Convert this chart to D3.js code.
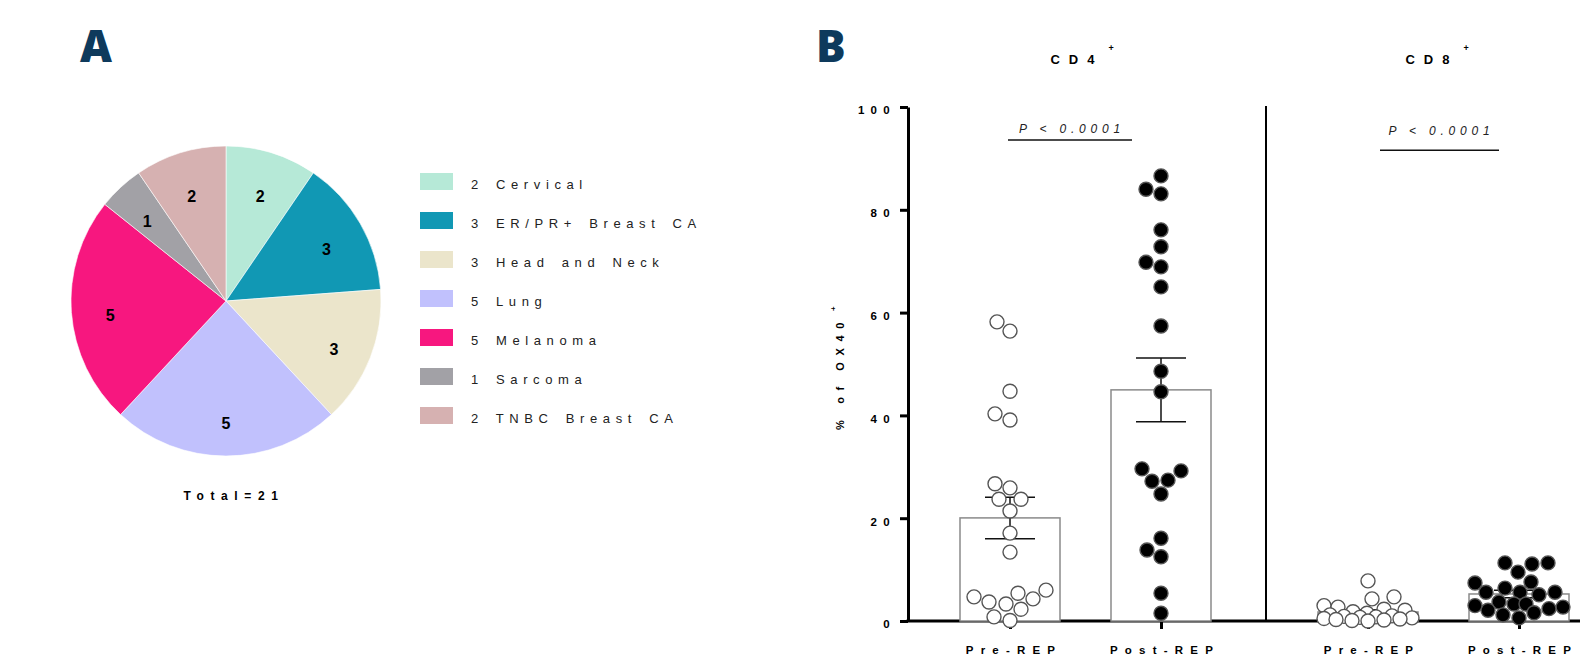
<!DOCTYPE html>
<html>
<head>
<meta charset="utf-8">
<script src="https://cdn.jsdelivr.net/npm/d3@7"></script>
<style>
  body { margin: 0; background: #fff; }
  svg { display: block; font-family: "Liberation Sans", Arial, sans-serif; }
</style>
</head>
<body>
<script>
// ---- panel A : tumour types ----
var tumourTypes  = ["Cervical", "ER/PR+ Breast CA", "Head and Neck", "Lung", "Melanoma", "Sarcoma", "TNBC Breast CA"];
var tumourCounts = [2, 3, 3, 5, 5, 1, 2];
var tumourColors = ["#b6e9d7", "#1198b4", "#ebe5cb", "#c1c1fd", "#f7177f", "#a2a1a6", "#d6b1b1"];

// ---- panel B : % of OX40+ per patient ----
var groups  = ["Pre-REP", "Post-REP"];
var subsets = ["CD4", "CD8"];
var cd4Pre  = [58.2, 56.4, 44.7, 40.3, 39.1, 26.7, 25.9, 23.7, 23.7, 21.4, 17.1, 13.4, 5.4, 4.7, 6.0, 3.7, 2.3, 3.3, 4.3, 0.1, 0.8];
var cd4Post = [86.6, 83.1, 84.0, 76.1, 72.8, 69.8, 68.9, 65.0, 57.4, 48.6, 44.6, 29.6, 27.4, 29.2, 27.2, 24.7, 13.8, 16.1, 12.5, 5.4, 1.5];
var cd8Pre  = [7.8, 4.7, 4.3, 3.0, 2.7, 2.3, 2.1, 1.8, 1.5, 1.2, 1.0, 0.9, 0.8, 0.7, 0.6, 0.5, 0.4, 0.3, 0.2, 0.1, 0.0];
var cd8Post = [11.1, 9.5, 11.3, 11.3, 7.4, 7.6, 5.6, 5.6, 5.1, 5.6, 6.4, 3.3, 2.7, 3.7, 3.3, 1.6, 2.1, 0.6, 1.2, 3.0, 2.4];
var yTicks  = [0, 20, 40, 60, 80, 100];
var pText   = ["P < 0.0001", "P < 0.0001"];
var pLevel  = [93.6, 91.6];   // height of the significance bar, in % units

var W = 1580, H = 658;
var svg = d3.select("body").append("svg").attr("width", W).attr("height", H);

var navy = "#0e3a5c";
svg.append("text").attr("x", 80).attr("y", 62).text("A")
   .style("font-family", "'Open Sans', sans-serif").style("font-weight", 800)
   .style("font-size", "44px").style("fill", navy);
svg.append("text").attr("x", 816).attr("y", 62).text("B")
   .style("font-family", "'Open Sans', sans-serif").style("font-weight", 800)
   .style("font-size", "44px").style("fill", navy);

// ================= pie =================
var cx = 226, cy = 301, R = 155;
var pie = d3.pie().sort(null).value(function(d) { return d; });
var arc = d3.arc().innerRadius(0).outerRadius(R);
var labelArc = d3.arc().innerRadius(116).outerRadius(116);
var slices = pie(tumourCounts);

var gp = svg.append("g").attr("transform", "translate(" + cx + "," + cy + ")");
gp.selectAll("path")
  .data(slices)
  .enter().append("path")
  .attr("d", arc)
  .attr("fill", function(d, i) { return tumourColors[i]; })
  .attr("stroke", "#fff")
  .attr("stroke-width", 0.6);

gp.selectAll(".lbl")
  .data(slices)
  .enter().append("text")
  .attr("class", "lbl")
  .attr("transform", function(d) { return "translate(" + labelArc.centroid(d) + ")"; })
  .attr("dy", "0.72em")
  .style("text-anchor", "middle")
  .style("font-weight", "bold")
  .style("font-size", "16px")
  .text(function(d) { return d.data; });

svg.append("text")
   .attr("x", cx + 8).attr("y", 500)
   .style("text-anchor", "middle")
   .style("font-weight", "bold").style("font-size", "12px").style("letter-spacing", "6.6px")
   .text("Total=" + d3.sum(tumourCounts));

var legend = svg.append("g").attr("transform", "translate(420,173)");
var row = legend.selectAll("g")
  .data(tumourTypes)
  .enter().append("g")
  .attr("transform", function(d, i) { return "translate(0," + (i * 39) + ")"; });
row.append("rect").attr("width", 33).attr("height", 17)
   .attr("fill", function(d, i) { return tumourColors[i]; });
row.append("text").attr("x", 51).attr("y", 16)
   .style("font-size", "13px").style("letter-spacing", "5.6px").style("word-spacing", "3px").style("fill", "#222")
   .text(function(d, i) { return tumourCounts[i] + " " + d; });

// ================= dot plot =================
var y = d3.scaleLinear().domain([0, 100]).range([621, 107]);
var axisX = [908, 1266];
var data = [[cd4Pre, cd4Post], [cd8Pre, cd8Post]];
var dotR = 7;

// greedy beeswarm: smallest free offset, else the least crowded one
function swarm(values, minDist, maxOff) {
  var order = d3.range(values.length).sort(function(a, b) { return values[a] - values[b]; });
  var placed = [], offs = [];
  order.forEach(function(i) {
    var py = y(values[i]);
    var best = 0, bestD = -1, found = false;
    for (var k = 0; k <= maxOff && !found; k++) {
      var cands = k === 0 ? [0] : [-k, k];
      for (var c = 0; c < cands.length; c++) {
        var dx = cands[c];
        var dmin = d3.min(placed, function(p) { return Math.hypot(p.dx - dx, p.y - py); });
        if (dmin === undefined) dmin = Infinity;
        if (dmin >= minDist) { best = dx; found = true; break; }
        if (dmin > bestD) { bestD = dmin; best = dx; }
      }
    }
    offs[i] = best;
    placed.push({dx: best, y: py});
  });
  return offs;
}

// x baseline across both panels
svg.append("line").attr("x1", axisX[0] - 1.5).attr("x2", W).attr("y1", y(0)).attr("y2", y(0))
   .attr("stroke", "#000").attr("stroke-width", 3);

// left y axis
var yAxis = svg.append("g")
  .attr("transform", "translate(" + axisX[0] + ",0)")
  .call(d3.axisLeft(y).tickValues(yTicks).tickSize(8).tickSizeOuter(0).tickPadding(4));
yAxis.select(".domain").attr("stroke-width", 3);
yAxis.selectAll(".tick line").attr("stroke-width", 3);
yAxis.selectAll(".tick text")
  .attr("dy", "0.6em")
  .style("font-family", "'Liberation Sans', Arial, sans-serif")
  .style("font-weight", "bold").style("font-size", "11.5px").style("letter-spacing", "6.3px");

// separator axis for CD8
svg.append("line").attr("x1", axisX[1]).attr("x2", axisX[1]).attr("y1", y(100) - 1).attr("y2", y(0))
   .attr("stroke", "#000").attr("stroke-width", 2);

var yl = svg.append("g").attr("transform", "translate(844,373) rotate(-90)");
yl.append("text")
  .style("text-anchor", "middle")
  .style("font-weight", "bold").style("font-size", "11px").style("letter-spacing", "6.6px")
  .text("% of OX40");
yl.append("text").attr("x", 62).attr("y", -8)
  .style("font-weight", "bold").style("font-size", "8px")
  .text("+");

subsets.forEach(function(s, si) {
  var x0 = axisX[si];
  var x = d3.scalePoint().domain(groups).range([x0 + 102, x0 + 253]);
  var g = svg.append("g");

  // title with superscript
  var tx = si ? 1432 : 1077;
  var t = g.append("text")
    .attr("x", tx).attr("y", 64)
    .style("text-anchor", "middle")
    .style("font-weight", "bold").style("font-size", "13px").style("letter-spacing", "9px")
    .text(s);
  var bb = t.node().getBBox();
  g.append("text").attr("x", bb.x + bb.width + 5).attr("y", 51)
    .style("font-weight", "bold").style("font-size", "9px")
    .text("+");

  // x ticks + labels
  var xa = g.append("g").attr("transform", "translate(0," + y(0) + ")")
    .call(d3.axisBottom(x).tickSize(8).tickPadding(17));
  xa.select(".domain").remove();
  xa.selectAll(".tick line").attr("stroke-width", 3);
  xa.selectAll(".tick text")
    .attr("dx", "3.5px")
    .style("font-family", "'Liberation Sans', Arial, sans-serif")
    .style("font-weight", "bold").style("font-size", "11.5px").style("letter-spacing", "7.2px");

  groups.forEach(function(grp, gi) {
    var vals = data[si][gi];
    var m = d3.mean(vals);
    var sem = d3.deviation(vals) / Math.sqrt(vals.length);
    var xc = x(grp);

    g.append("rect")
      .attr("x", xc - 50).attr("width", 100)
      .attr("y", y(m)).attr("height", y(0) - y(m))
      .attr("fill", "#fff").attr("stroke", "#8a8a8a").attr("stroke-width", 1.5);

    g.append("line").attr("x1", xc).attr("x2", xc).attr("y1", y(m + sem)).attr("y2", y(m - sem))
      .attr("stroke", "#111").attr("stroke-width", 1.5);
    [m + sem, m - sem].forEach(function(v) {
      g.append("line").attr("x1", xc - 25).attr("x2", xc + 25).attr("y1", y(v)).attr("y2", y(v))
        .attr("stroke", "#111").attr("stroke-width", 1.5);
    });

    var offs = swarm(vals, 15.5, 44);
    g.selectAll(".dot" + gi)
      .data(vals)
      .enter().append("circle")
      .attr("cx", function(d, i) { return xc + offs[i]; })
      .attr("cy", function(d) { return y(d); })
      .attr("r", dotR)
      .attr("fill", gi === 0 ? "#fff" : "#000")
      .attr("stroke", "#555")
      .attr("stroke-width", 1.4);
  });

  // significance bar
  var lx1 = si ? x(groups[0]) + 12 : x(groups[0]) - 2;
  var lx2 = si ? x(groups[1]) - 20 : x(groups[1]) - 29;
  g.append("line").attr("x1", lx1).attr("x2", lx2).attr("y1", y(pLevel[si])).attr("y2", y(pLevel[si]))
    .attr("stroke", "#111").attr("stroke-width", 1.5);
  g.append("text")
    .attr("x", (lx1 + lx2) / 2 + 2).attr("y", si ? 135 : 133)
    .style("text-anchor", "middle")
    .style("font-style", "italic").style("font-size", "12px").style("letter-spacing", "4.8px")
    .style("fill", "#222")
    .text(pText[si]);
});
</script>
</body>
</html>
